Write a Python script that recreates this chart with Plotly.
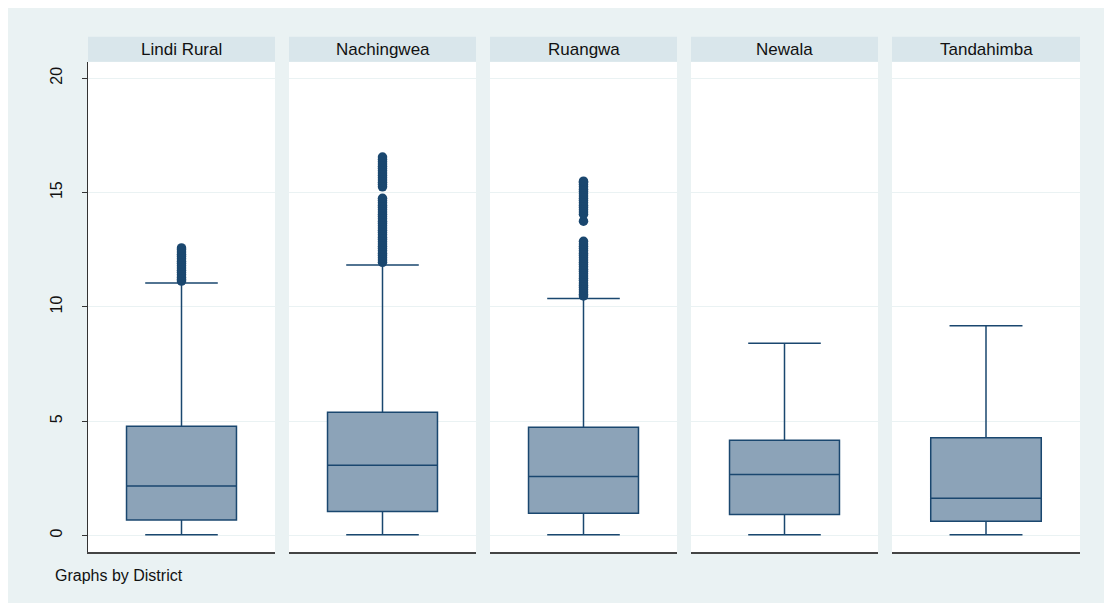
import plotly.graph_objects as go

# Box-plot summaries per district
districts = ["Lindi Rural", "Nachingwea", "Ruangwa", "Newala", "Tandahimba"]
q1 = [0.68, 1.05, 0.97, 0.92, 0.62]
median = [2.17, 3.07, 2.58, 2.67, 1.63]
q3 = [4.78, 5.39, 4.74, 4.17, 4.28]
lower_whisker = [0.03, 0.03, 0.03, 0.03, 0.03]
upper_whisker = [11.05, 11.83, 10.37, 8.41, 9.17]

# Outlying observations above the upper whisker
outliers_lindi = [11.13, 11.2, 11.3, 11.4, 11.5, 11.6, 11.7, 11.8, 11.9, 12.0,
                  12.1, 12.2, 12.3, 12.4, 12.5, 12.58]
outliers_nachingwea = [11.95, 12.05, 12.15, 12.25, 12.35, 12.45, 12.55, 12.65,
                       12.75, 12.85, 12.95, 13.05, 13.15, 13.25, 13.35, 13.45,
                       13.55, 13.65, 13.75, 13.85, 13.95, 14.05, 14.15, 14.25,
                       14.35, 14.45, 14.55, 14.65, 14.75,
                       15.25, 15.35, 15.45, 15.55, 15.65, 15.75, 15.85, 15.95,
                       16.05, 16.15, 16.25, 16.35, 16.45, 16.55]
outliers_ruangwa = [10.48, 10.55, 10.65, 10.75, 10.85, 10.95, 11.05, 11.15,
                    11.25, 11.35, 11.45, 11.55, 11.65, 11.75, 11.85, 11.95,
                    12.05, 12.15, 12.25, 12.35, 12.45, 12.55, 12.65, 12.75,
                    12.87, 13.75, 14.05, 14.15, 14.25, 14.35, 14.45, 14.55,
                    14.65, 14.75, 14.85, 14.95, 15.05, 15.15, 15.25, 15.35,
                    15.45, 15.5]
outliers = [outliers_lindi, outliers_nachingwea, outliers_ruangwa, [], []]

y_ticks = [0, 5, 10, 15, 20]

W, H = 1104, 603
NAVY = "#1A476F"
BOX_FILL = "#8CA3B8"
OUTER_BG = "#EAF2F3"
STRIP_BG = "#D9E6EB"
FONT = "Liberation Sans, Arial, sans-serif"

# Panel pixel extents (left, right) and vertical plot extents
panel_px = [(88, 275), (289, 476), (490, 677), (691, 878), (892, 1080)]
plot_top, plot_bottom = 62, 552
strip_top, strip_bottom = 36.7, 61.7


def px_x(x):
    return x / W


def px_y(y):
    return 1 - y / H


fig = go.Figure()
layout = dict(
    width=W, height=H,
    margin=dict(l=0, r=0, t=0, b=0),
    paper_bgcolor=OUTER_BG,
    plot_bgcolor="white",
    showlegend=False,
    font=dict(family=FONT, color="#111111"),
    shapes=[], annotations=[],
)

# Thin white border along the top and left edges of the graph region
for x0, x1, y0, y1 in [(0, W, 0, 8), (0, 8, 0, H)]:
    layout["shapes"].append(dict(
        type="rect", xref="paper", yref="paper",
        x0=px_x(x0), x1=px_x(x1), y0=px_y(y1), y1=px_y(y0),
        fillcolor="white", line=dict(width=0), layer="below",
    ))

for i, name in enumerate(districts):
    suffix = "" if i == 0 else str(i + 1)
    xa, ya = "x" + suffix, "y" + suffix
    left, right = panel_px[i]

    fig.add_trace(go.Box(
        x=[0], q1=[q1[i]], median=[median[i]], q3=[q3[i]],
        lowerfence=[lower_whisker[i]], upperfence=[upper_whisker[i]],
        width=0.588, whiskerwidth=0.66,
        fillcolor=BOX_FILL, line=dict(color=NAVY, width=1.5),
        boxpoints=False, hoverinfo="skip",
        xaxis=xa, yaxis=ya,
    ))
    if outliers[i]:
        fig.add_trace(go.Scatter(
            x=[0] * len(outliers[i]), y=outliers[i], mode="markers",
            marker=dict(color=NAVY, size=9.5, line=dict(width=0)),
            hoverinfo="skip", xaxis=xa, yaxis=ya,
        ))

    layout["xaxis" + suffix] = dict(
        domain=[px_x(left), px_x(right)], range=[-0.5, 0.5],
        showticklabels=False, ticks="", showgrid=False, zeroline=False,
        showline=True, linecolor="#444444", linewidth=2,
        anchor=ya, fixedrange=True,
    )
    yaxis = dict(
        domain=[px_y(plot_bottom), px_y(plot_top)], range=[-0.72, 20.71],
        tickvals=y_ticks, showgrid=True, gridcolor=OUTER_BG, gridwidth=1,
        zeroline=False, anchor=xa, fixedrange=True,
    )
    if i == 0:
        yaxis.update(
            showticklabels=True, ticks="outside", ticklen=5, tickwidth=1,
            tickcolor="#333333", tickangle=-90, showline=True,
            linecolor="#333333", linewidth=1.2,
            tickfont=dict(family=FONT, size=16, color="#111111"),
            ticklabelstandoff=14, automargin=False,
        )
    else:
        yaxis.update(showticklabels=False, ticks="", showline=False,
                     matches="y")
    layout["yaxis" + suffix] = yaxis

    # Header strip with district name
    layout["shapes"].append(dict(
        type="rect", xref="paper", yref="paper",
        x0=px_x(left), x1=px_x(right), y0=px_y(strip_bottom), y1=px_y(strip_top),
        fillcolor=STRIP_BG, line=dict(width=0), layer="below",
    ))
    layout["annotations"].append(dict(
        text=name, xref="paper", yref="paper",
        x=px_x((left + right) / 2), y=px_y(49.6),
        xanchor="center", yanchor="middle", showarrow=False,
        font=dict(family=FONT, size=17, color="#111111"),
    ))

layout["annotations"].append(dict(
    text="Graphs by District", xref="paper", yref="paper",
    x=px_x(53), y=px_y(575), xanchor="left", yanchor="middle",
    showarrow=False, font=dict(family=FONT, size=16, color="#111111"),
))

fig.update_layout(**layout)
fig.write_html("out.html")
